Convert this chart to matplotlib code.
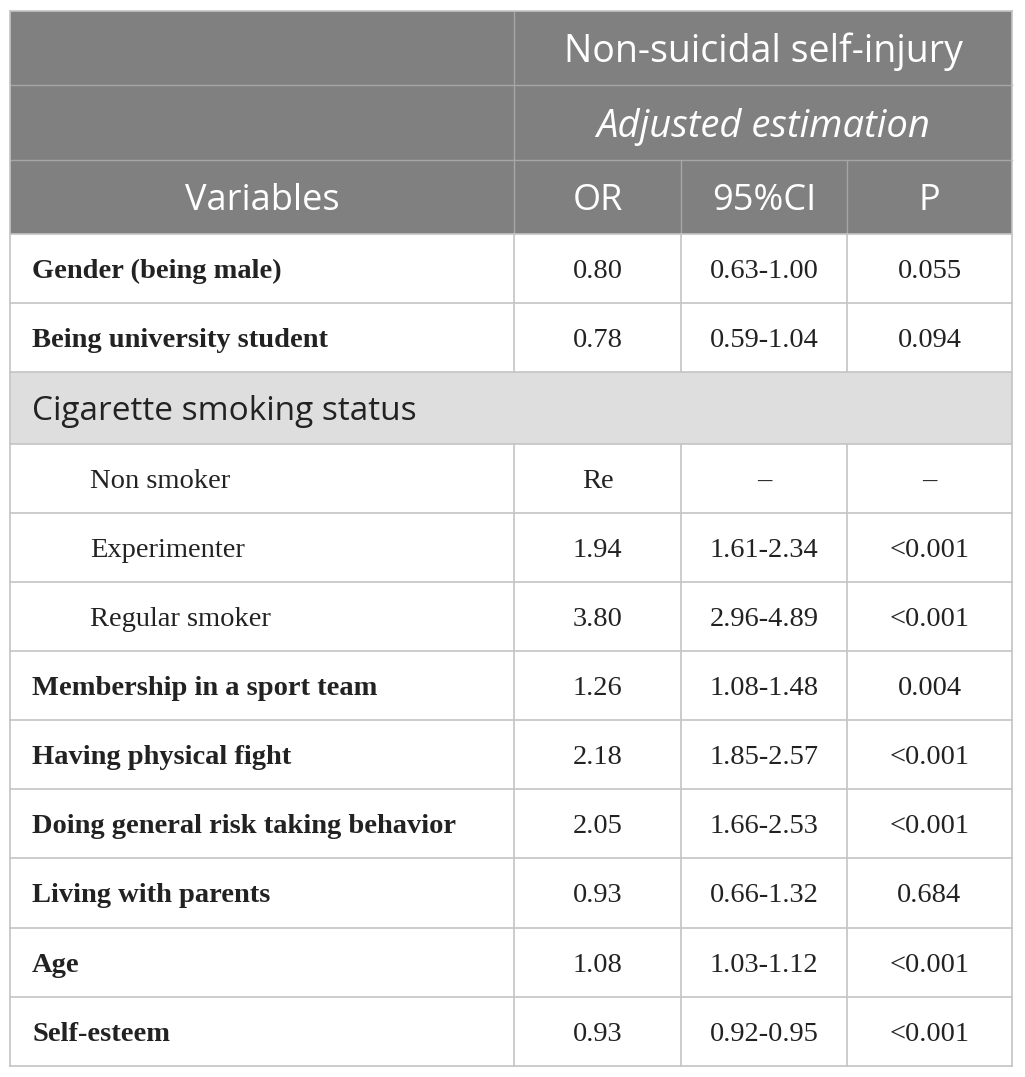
import matplotlib.pyplot as plt
from matplotlib.patches import Rectangle

W, H = 1025, 1077

# table content
variables = ["Gender (being male)", "Being university student", "Cigarette smoking status",
             "Non smoker", "Experimenter", "Regular smoker",
             "Membership in a sport team", "Having physical fight",
             "Doing general risk taking behavior", "Living with parents",
             "Age", "Self-esteem"]
odds_ratio = ["0.80", "0.78", None, "Re", "1.94", "3.80", "1.26", "2.18", "2.05", "0.93", "1.08", "0.93"]
ci95 = ["0.63-1.00", "0.59-1.04", None, "\u2013", "1.61-2.34", "2.96-4.89", "1.08-1.48",
        "1.85-2.57", "1.66-2.53", "0.66-1.32", "1.03-1.12", "0.92-0.95"]
p_values = ["0.055", "0.094", None, "\u2013", "<0.001", "<0.001", "0.004", "<0.001",
            "<0.001", "0.684", "<0.001", "<0.001"]
row_kind = ["bold", "bold", "group", "sub", "sub", "sub", "bold", "bold", "bold", "bold", "bold", "bold"]

# layout (pixels)
col_x = [10, 514, 681, 847, 1012]
head_y = [11, 85, 160, 234]
body_y = [234, 303, 372, 444, 513, 582, 651, 720, 789, 858, 928, 997, 1066]

header_bg = "#808080"
group_bg = "#dedede"
line_c = "#c4c4c4"
head_line = "#a6a6a6"
sans = "Open Sans"
serif = "Liberation Serif"
head_fs = 26
body_fs = 20.5

fig = plt.figure(figsize=(W / 100, H / 100), dpi=100)
ax = fig.add_axes([0, 0, 1, 1])
ax.set_xlim(0, W)
ax.set_ylim(H, 0)
ax.axis("off")

# header block
ax.add_patch(Rectangle((col_x[0], head_y[0]), col_x[-1] - col_x[0], head_y[-1] - head_y[0],
                       facecolor=header_bg, edgecolor="none"))
for y in head_y[1:3]:
    ax.plot([col_x[0], col_x[-1]], [y, y], color=head_line, lw=1)
ax.plot([col_x[1], col_x[1]], [head_y[0], head_y[-1]], color=head_line, lw=1)
for x in col_x[2:4]:
    ax.plot([x, x], [head_y[2], head_y[3]], color=head_line, lw=1)

hy = lambda i: (head_y[i] + head_y[i + 1]) / 2 + 4
mid_right = (col_x[1] + col_x[-1]) / 2
ax.text(mid_right, hy(0), "Non-suicidal self-injury", color="white", family=sans,
        fontsize=27, ha="center", va="center")
ax.text(mid_right, hy(1), "Adjusted estimation", color="white", family=sans,
        fontsize=27.5, style="italic", ha="center", va="center")
ax.text((col_x[0] + col_x[1]) / 2, hy(2), "Variables", color="white", family=sans,
        fontsize=head_fs, ha="center", va="center")
for j, lab in enumerate(["OR", "95%CI", "P"]):
    ax.text((col_x[j + 1] + col_x[j + 2]) / 2, hy(2), lab, color="white", family=sans,
            fontsize=head_fs, ha="center", va="center")

# body rows
for i, name in enumerate(variables):
    y0, y1 = body_y[i], body_y[i + 1]
    ym = (y0 + y1) / 2 + 3
    kind = row_kind[i]
    if kind == "group":
        ax.add_patch(Rectangle((col_x[0], y0), col_x[-1] - col_x[0], y1 - y0,
                               facecolor=group_bg, edgecolor="none"))
        ax.text(col_x[0] + 22, ym, name, family=sans, fontsize=24, color="#222222",
                ha="left", va="center")
        continue
    xoff = 80 if kind == "sub" else 22
    ax.text(col_x[0] + xoff, ym, name, family=serif, fontsize=body_fs,
            weight="bold" if kind == "bold" else "normal", color="#222222",
            ha="left", va="center")
    for j, val in enumerate([odds_ratio[i], ci95[i], p_values[i]]):
        ax.text((col_x[j + 1] + col_x[j + 2]) / 2, ym, val, family=serif, fontsize=body_fs,
                color="#222222", ha="center", va="center")

# grid lines in body
for y in body_y:
    ax.plot([col_x[0], col_x[-1]], [y, y], color=line_c, lw=1.2)
for x in col_x:
    if x in (col_x[0], col_x[-1]):
        ax.plot([x, x], [head_y[0], body_y[-1]], color=line_c, lw=1.2)
    else:
        ax.plot([x, x], [body_y[0], body_y[2]], color=line_c, lw=1.2)
        ax.plot([x, x], [body_y[3], body_y[-1]], color=line_c, lw=1.2)
ax.plot([col_x[0], col_x[-1]], [head_y[0], head_y[0]], color=line_c, lw=1.2)

fig.savefig("out.png", dpi=100)
